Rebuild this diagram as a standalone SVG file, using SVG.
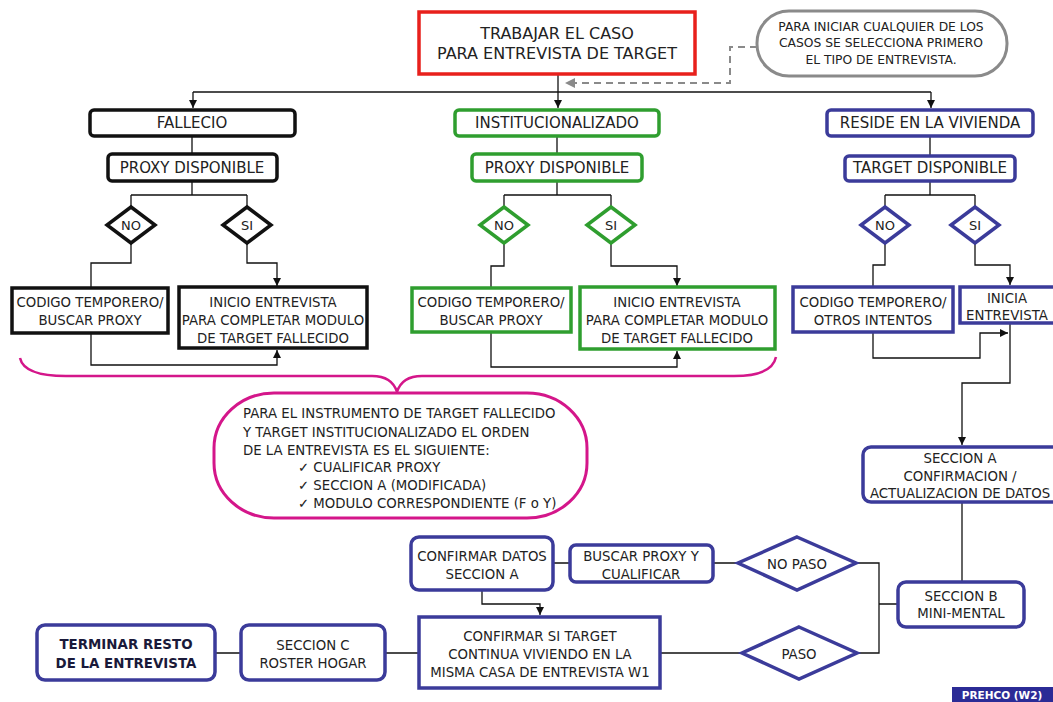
<svg xmlns="http://www.w3.org/2000/svg" width="1053" height="702" viewBox="0 0 1053 702">
<defs>
<marker id="ar" markerWidth="9" markerHeight="9" refX="8" refY="4" orient="auto" markerUnits="userSpaceOnUse"><path d="M0,0 L8,4 L0,8 z" fill="#111"/></marker>
<marker id="arg" markerWidth="12" markerHeight="10" refX="10" refY="5" orient="auto" markerUnits="userSpaceOnUse"><path d="M0,0 L10,5 L0,10 z" fill="#8a8a8a"/></marker>
<style>
text{font-family:"DejaVu Sans",Verdana,sans-serif;fill:#222;text-anchor:middle;dominant-baseline:central}
.t{font-size:16px}
.h{font-size:15px}
.s{font-size:13.3px}
.c{font-size:12.3px}
.d{font-size:13px}
.b{font-size:13.4px;font-weight:bold;fill:#1a1a3a}
.l{text-anchor:start}
.k{fill:#fff;stroke:#111;stroke-width:3.5}
.g{fill:#fff;stroke:#2f9e2f;stroke-width:3.5}
.u{fill:#fff;stroke:#3b3b9a;stroke-width:3.5}
.con{fill:none;stroke:#111;stroke-width:1.3}
.m{fill:none;stroke:#d4168a;stroke-width:2.5}
</style>
</defs>
<rect width="1053" height="702" fill="#fff"/>

<g id="connectors">
<path class="con" d="M558,74 V108" marker-end="url(#ar)"/>
<path class="con" d="M193,92 H931"/>
<path class="con" d="M193,92 V108" marker-end="url(#ar)"/>
<path class="con" d="M931,92 V108" marker-end="url(#ar)"/>
<path d="M757,47 H730 V83 H565" fill="none" stroke="#8a8a8a" stroke-width="2" stroke-dasharray="7,5" marker-end="url(#arg)"/>
<path class="con" d="M192,136 V154 M192,181 V195 M131,195 H247 M131,195 V207 M247,195 V207"/>
<path class="con" d="M131,243 V263 H91 V288"/>
<path class="con" d="M247,243 V263 H277 V286" marker-end="url(#ar)"/>
<path class="con" d="M91,333 V365 H277 V350" marker-end="url(#ar)"/>
<path class="con" d="M557,136 V154 M557,181 V195 M504,195 H611 M504,195 V207 M611,195 V207"/>
<path class="con" d="M504,243 V266 H491 V288"/>
<path class="con" d="M611,243 V266 H677 V286" marker-end="url(#ar)"/>
<path class="con" d="M491,332 V367 H677 V351" marker-end="url(#ar)"/>
<path class="con" d="M930,136 V156 M930,181 V195 M885,195 H975 M885,195 V207 M975,195 V207"/>
<path class="con" d="M885,243 V265 H873 V287"/>
<path class="con" d="M975,243 V265 H1010 V285" marker-end="url(#ar)"/>
<path class="con" d="M873,332 V358 H980 V333 H1008" marker-end="url(#ar)"/>
<path class="con" d="M1010,323 V383 H962 V445" marker-end="url(#ar)"/>
<path class="con" d="M962,502 V582"/>
<path class="con" d="M856,563 H879 V653 H857 M879,604 H898"/>
<path class="con" d="M738,563 H713 M570,563 H553"/>
<path class="con" d="M482,590 V604 H540 V615" marker-end="url(#ar)"/>
<path class="con" d="M742,653 H660 M419,653 H385 M241,653 H215"/>
<path class="m" d="M20,358 Q24,376 66,376 L372,376 Q392,376 397,392 Q402,376 422,376 L734,376 Q772,376 776,357"/>
</g>

<g id="title"><rect x="419" y="12" width="276" height="62" fill="#fff" stroke="#e8201c" stroke-width="3.5"/>
<text class="t" x="557" y="33">TRABAJAR EL CASO</text><text class="t" x="557" y="53">PARA ENTREVISTA DE TARGET</text></g>

<g id="note-top"><rect x="757" y="11" width="250" height="65" rx="32" fill="#fff" stroke="#8a8a8a" stroke-width="3"/>
<text class="c" x="881" y="27">PARA INICIAR CUALQUIER DE LOS</text><text class="c" x="881" y="43">CASOS SE SELECCIONA PRIMERO</text><text class="c" x="881" y="60">EL TIPO DE ENTREVISTA.</text></g>

<g id="fallecio"><rect class="k" x="90" y="110" width="205" height="26" rx="4"/><text class="h" x="192" y="123">FALLECIO</text></g>
<g id="proxy-k"><rect class="k" x="108" y="154" width="169" height="27" rx="4"/><text class="h" x="192" y="168">PROXY DISPONIBLE</text></g>
<g id="no-k"><path class="k" d="M131,207 L155,225 L131,243 L107,225 z"/><text class="d" x="131" y="225">NO</text></g>
<g id="si-k"><path class="k" d="M247,207 L271,225 L247,243 L223,225 z"/><text class="d" x="247" y="225">SI</text></g>
<g id="codigo-k"><rect class="k" x="12" y="288" width="156" height="45"/><text class="s" x="90" y="302">CODIGO TEMPORERO/</text><text class="s" x="90" y="320">BUSCAR PROXY</text></g>
<g id="inicio-k"><rect class="k" x="179" y="287" width="188" height="61"/><text class="s" x="273" y="302">INICIO ENTREVISTA</text><text class="s" x="273" y="320">PARA COMPLETAR MODULO</text><text class="s" x="273" y="338">DE TARGET FALLECIDO</text></g>

<g id="inst"><rect class="g" x="455" y="110" width="204" height="26" rx="4"/><text class="h" x="557" y="123">INSTITUCIONALIZADO</text></g>
<g id="proxy-g"><rect class="g" x="472" y="154" width="170" height="27" rx="4"/><text class="h" x="557" y="168">PROXY DISPONIBLE</text></g>
<g id="no-g"><path class="g" d="M504,207 L528,225 L504,243 L480,225 z"/><text class="d" x="504" y="225">NO</text></g>
<g id="si-g"><path class="g" d="M611,207 L635,225 L611,243 L587,225 z"/><text class="d" x="611" y="225">SI</text></g>
<g id="codigo-g"><rect class="g" x="412" y="288" width="159" height="44"/><text class="s" x="491" y="302">CODIGO TEMPORERO/</text><text class="s" x="491" y="320">BUSCAR PROXY</text></g>
<g id="inicio-g"><rect class="g" x="580" y="287" width="195" height="62"/><text class="s" x="677" y="302">INICIO ENTREVISTA</text><text class="s" x="677" y="320">PARA COMPLETAR MODULO</text><text class="s" x="677" y="338">DE TARGET FALLECIDO</text></g>

<g id="reside"><rect class="u" x="827" y="110" width="206" height="26" rx="4"/><text class="h" x="930" y="123">RESIDE EN LA VIVIENDA</text></g>
<g id="target"><rect class="u" x="845" y="156" width="170" height="25" rx="4"/><text class="h" x="930" y="168">TARGET DISPONIBLE</text></g>
<g id="no-u"><path class="u" d="M885,207 L909,225 L885,243 L861,225 z"/><text class="d" x="885" y="225">NO</text></g>
<g id="si-u"><path class="u" d="M975,207 L999,225 L975,243 L951,225 z"/><text class="d" x="975" y="225">SI</text></g>
<g id="codigo-u"><rect class="u" x="793" y="287" width="160" height="45"/><text class="s" x="873" y="302">CODIGO TEMPORERO/</text><text class="s" x="873" y="320">OTROS INTENTOS</text></g>
<g id="inicia"><rect class="u" x="960" y="287" width="100" height="36"/><text class="s" x="1007" y="298">INICIA</text><text class="s" x="1007" y="315">ENTREVISTA</text></g>

<g id="note-mid"><rect x="214" y="393" width="373" height="125" rx="60" ry="55" fill="#fff" stroke="#d4168a" stroke-width="3"/>
<text class="s l" x="243" y="413">PARA EL INSTRUMENTO DE TARGET FALLECIDO</text>
<text class="s l" x="243" y="432">Y TARGET INSTITUCIONALIZADO EL ORDEN</text>
<text class="s l" x="243" y="450">DE LA ENTREVISTA ES EL SIGUIENTE:</text>
<text class="s l" x="298" y="467">✓ CUALIFICAR PROXY</text>
<text class="s l" x="298" y="485">✓ SECCION A (MODIFICADA)</text>
<text class="s l" x="298" y="503">✓ MODULO CORRESPONDIENTE (F o Y)</text></g>

<g id="seccion-a"><rect class="u" x="863" y="447" width="197" height="55" rx="8"/><text class="s" x="960" y="458">SECCION A</text><text class="s" x="960" y="476">CONFIRMACION /</text><text class="s" x="960" y="493">ACTUALIZACION DE DATOS</text></g>
<g id="seccion-b"><rect class="u" x="898" y="582" width="126" height="45" rx="8"/><text class="s" x="961" y="596">SECCION B</text><text class="s" x="961" y="613">MINI-MENTAL</text></g>
<g id="no-paso"><path class="u" d="M797,537 L856,563 L797,590 L738,563 z"/><text class="s" x="797" y="564">NO PASO</text></g>
<g id="paso"><path class="u" d="M799,627 L857,653 L799,679 L742,653 z"/><text class="s" x="799" y="654">PASO</text></g>
<g id="buscar"><rect class="u" x="570" y="545" width="143" height="37" rx="6"/><text class="s" x="641" y="556">BUSCAR PROXY Y</text><text class="s" x="641" y="574">CUALIFICAR</text></g>
<g id="confirmar-datos"><rect class="u" x="411" y="537" width="142" height="53" rx="8"/><text class="s" x="482" y="556">CONFIRMAR DATOS</text><text class="s" x="482" y="574">SECCION A</text></g>
<g id="confirmar-si"><rect class="u" x="419" y="617" width="241" height="71"/><text class="s" x="540" y="636">CONFIRMAR SI TARGET</text><text class="s" x="540" y="654">CONTINUA VIVIENDO EN LA</text><text class="s" x="540" y="672">MISMA CASA DE ENTREVISTA W1</text></g>
<g id="seccion-c"><rect class="u" x="241" y="625" width="144" height="55" rx="8"/><text class="s" x="313" y="645">SECCION C</text><text class="s" x="313" y="663">ROSTER HOGAR</text></g>
<g id="terminar"><rect class="u" x="37" y="625" width="178" height="55" rx="8"/><text class="b" x="126" y="644">TERMINAR RESTO</text><text class="b" x="126" y="663">DE LA ENTREVISTA</text></g>

<g id="badge"><rect x="952" y="687" width="101" height="15" fill="#2b2b96"/><text x="1002" y="695" style="font-size:10.5px;font-weight:bold;fill:#fff">PREHCO (W2)</text></g>
</svg>
